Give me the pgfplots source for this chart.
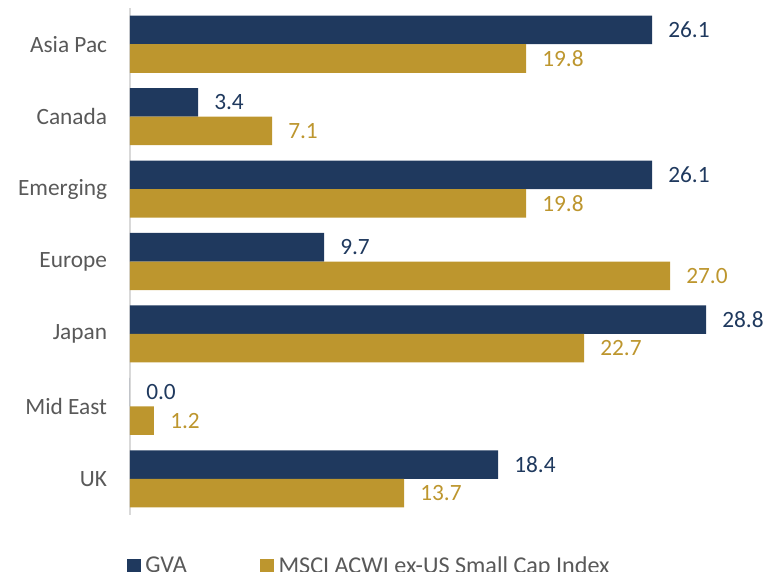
\documentclass[border=0pt]{standalone}
\usepackage{fontspec}
\setmainfont{Carlito}
\usepackage{pgfplots}
\pgfplotsset{compat=1.18}
\definecolor{navy}{RGB}{31,57,94}
\definecolor{gold}{RGB}{189,150,46}
\definecolor{txt}{RGB}{89,89,89}
\definecolor{axgray}{RGB}{217,217,217}
\newcommand{\lblfont}{\fontsize{17.5}{21}\selectfont}

\begin{document}
\begin{tikzpicture}
\begin{axis}[
  at={(0,0)}, anchor=south west,
  scale only axis,
  width=450pt, height=380.25pt,
  xbar, bar width=21.4pt,
  xmin=0, xmax=30,
  ymin=-0.5, ymax=6.5,
  y dir=reverse,
  ytick={0,...,6},
  yticklabels={Asia Pac,Canada,Emerging\hspace{0.23em},Europe,Japan,Mid East,UK},
  axis x line=none,
  axis y line*=left,
  y axis line style={draw=axgray, line width=1pt, -},
  major tick length=0pt,
  yticklabel style={anchor=east, inner sep=0pt, xshift=-17pt, text=txt, font=\lblfont},
  clip=false,
  point meta=x,
  nodes near coords={\pgfmathprintnumber[fixed,fixed zerofill,precision=1,assume math mode=true]{\pgfplotspointmeta}},
  nodes near coords style={anchor=west, inner sep=0pt, xshift=12pt, font=\lblfont},
  legend columns=2,
  legend style={at={(axis description cs:0,0)}, anchor=west, yshift=-38pt, xshift=-2.5pt,
    draw=none, inner sep=0pt, font=\fontsize{18.1}{22}\selectfont, text=txt,
    /tikz/every odd column/.append style={column sep=1.25pt},
    /tikz/every even column/.append style={column sep=53pt}},
  legend image code/.code={\fill[#1] (0pt,-5.25pt) rectangle (10.5pt,5.25pt);},
]
\addplot[fill=navy, draw=none, bar shift=10.7pt, nodes near coords style={text=navy}]
  coordinates {(26.1,0) (3.4,1) (26.1,2) (9.7,3) (28.8,4) (0.0,5) (18.4,6)};
\addplot[fill=gold, draw=none, bar shift=-10.7pt, nodes near coords style={text=gold}]
  coordinates {(19.8,0) (7.1,1) (19.8,2) (27.0,3) (22.7,4) (1.2,5) (13.7,6)};
\legend{GVA, MSCI ACWI ex-US Small Cap Index}
\end{axis}
\pgfresetboundingbox
\useasboundingbox (-97.5pt,-42pt) rectangle (477.75pt,386.25pt);
\end{tikzpicture}
\end{document}
